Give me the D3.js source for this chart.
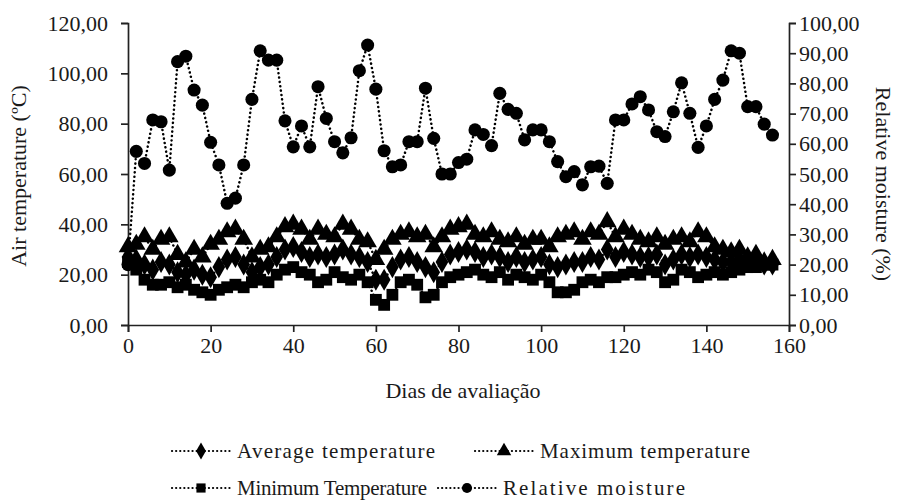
<!DOCTYPE html>
<html>
<head>
<meta charset="utf-8">
<script src="https://cdn.jsdelivr.net/npm/d3@7"></script>
<style>
  body { margin: 0; background: #fff; }
  text { font-family: "Liberation Serif", "Times New Roman", serif; fill: #1a1a1a; }
</style>
</head>
<body>
<div id="chart"></div>
<script>
// dimensions of the whole picture
var width = 908,
    height = 501;

// days of evaluation (one reading every 2 days)
var days = d3.range(0, 157, 2);

// air temperature (ºC)
var avgTemp = [27, 26, 24, 22, 25, 24, 21, 20, 22, 20, 19, 23, 26, 27, 24, 21, 23, 24, 27, 30,
  31, 29, 27, 28, 27, 28, 30, 28, 27, 25, 18, 18, 23, 26, 27, 25, 23, 21, 25, 28,
  29, 30, 29, 27, 28, 27, 25, 27, 25, 26, 27, 24, 23, 24, 25, 25, 27, 26, 30, 27,
  29, 28, 27, 27, 28, 24, 26, 28, 27, 28, 27, 26, 25, 25, 26, 25, 25, 24, 24];
var maxTemp = [31, 32, 35, 30, 34, 35, 28, 25, 30, 27, 32, 34, 37, 38, 34, 27, 30, 31, 35, 39,
  40, 38, 34, 38, 36, 35, 40, 38, 34, 33, 26, 30, 34, 36, 37, 35, 36, 31, 35, 38,
  39, 40, 36, 35, 37, 34, 33, 35, 32, 34, 34, 31, 35, 36, 37, 34, 37, 36, 41, 35,
  38, 36, 34, 33, 35, 32, 34, 35, 33, 37, 35, 31, 30, 29, 30, 27, 28, 25, 26];
var minTemp = [25, 22, 18, 16, 16, 17, 15, 16, 14, 13, 12, 14, 15, 16, 15, 17, 18, 17, 20, 22,
  23, 21, 20, 17, 18, 21, 19, 18, 20, 17, 10, 8, 12, 17, 18, 16, 11, 12, 17, 19,
  20, 21, 22, 20, 19, 21, 18, 20, 19, 18, 20, 17, 13, 13, 14, 17, 18, 17, 19, 19,
  20, 21, 20, 22, 21, 17, 18, 22, 21, 19, 20, 21, 20, 21, 22, 23, 23, 24, 24];
// relative moisture (%)
var moisture = [20, 57.5, 53.5, 67.9, 67.3, 51.3, 87.2, 89, 77.8, 72.8, 60.5, 53, 40.3, 42, 53, 74.7, 90.8, 87.7, 87.7, 67.6,
  59, 65.9, 59, 78.9, 68.4, 60.7, 57, 62, 84.2, 92.7, 78.1, 57.7, 52.4, 53, 60.7, 60.7, 78.4, 61.8, 50, 50,
  53.8, 54.9, 64.6, 63.1, 59.4, 76.7, 71.4, 70.1, 61.3, 64.6, 64.6, 60.7, 54.1, 49.1, 50.8, 46.4, 52.4, 52.6, 46.9, 67.9,
  67.9, 73.2, 75.6, 71.2, 64, 62.4, 70.6, 80.2, 70.1, 58.8, 65.9, 74.7, 81.1, 90.8, 90, 72.3, 72.3, 66.5, 62.9];

var leftTicks = [0, 20, 40, 60, 80, 100, 120];
var rightTicks = [0, 10, 20, 30, 40, 50, 60, 70, 80, 90, 100];
var xTicks = [0, 20, 40, 60, 80, 100, 120, 140, 160];

var series = [
  {name: "Average temperature", values: avgTemp, axis: "left", symbol: d3.symbolDiamond, size: 140},
  {name: "Maximum temperature", values: maxTemp, axis: "left", symbol: d3.symbolTriangle, size: 150},
  {name: "Minimum Temperature", values: minTemp, axis: "left", symbol: d3.symbolSquare, size: 140},
  {name: "Relative moisture", values: moisture, axis: "right", symbol: d3.symbolCircle, size: 135}
];

var fmt = function(v) { return d3.format(".2f")(v).replace(".", ","); };

var svg = d3.select("#chart")
  .append("svg")
  .attr("width", width)
  .attr("height", height);

var x = d3.scaleLinear().domain([0, 160]).range([128, 789]);
var yL = d3.scaleLinear().domain([0, 120]).range([325, 23]);
var yR = d3.scaleLinear().domain([0, 100]).range([325, 23]);

// axes
var gx = svg.append("g")
  .attr("transform", "translate(0,325)")
  .call(d3.axisBottom(x).tickValues(xTicks).tickSize(7).tickPadding(5).tickFormat(d3.format("d")));
var gl = svg.append("g")
  .attr("transform", "translate(128,0)")
  .call(d3.axisLeft(yL).tickValues(leftTicks).tickSize(7).tickPadding(13).tickFormat(fmt));
var gr = svg.append("g")
  .attr("transform", "translate(789,0)")
  .call(d3.axisRight(yR).tickValues(rightTicks).tickSize(7).tickPadding(3).tickFormat(fmt));

[gx, gl, gr].forEach(function(g) {
  g.selectAll("path").attr("stroke", "#222").attr("stroke-width", 1.7);
  g.selectAll("line").attr("stroke", "#222").attr("stroke-width", 1.7);
  g.selectAll("text").style("font-size", "22px").style("font-family", "Liberation Serif").attr("fill", "#1a1a1a");
});

// axis titles
svg.append("text")
  .attr("transform", "translate(18,176) rotate(-90)")
  .attr("text-anchor", "middle")
  .attr("dy", "0.35em")
  .style("font-size", "22px")
  .text("Air temperature (ºC)");

svg.append("text")
  .attr("transform", "translate(884,184) rotate(90)")
  .attr("text-anchor", "middle")
  .attr("dy", "0.35em")
  .style("font-size", "22px")
  .text("Relative moisture (%)");

svg.append("text")
  .attr("x", 463)
  .attr("y", 390)
  .attr("text-anchor", "middle")
  .attr("dy", "0.35em")
  .style("font-size", "22px")
  .text("Dias de avaliação");

// series
series.forEach(function(s) {
  var yScale = s.axis === "left" ? yL : yR;
  var pts = days.map(function(d, i) { return [x(d), yScale(s.values[i])]; });

  svg.append("path")
    .datum(pts)
    .attr("d", d3.line())
    .attr("fill", "none")
    .attr("stroke", "#000")
    .attr("stroke-width", 2.5)
    .attr("stroke-linecap", "round")
    .attr("stroke-dasharray", "0.1,4.3");

  svg.selectAll(null)
    .data(pts)
    .enter()
    .append("path")
    .attr("d", d3.symbol().type(s.symbol).size(s.size))
    .attr("transform", function(p) { return "translate(" + p[0] + "," + p[1] + ")"; })
    .attr("fill", "#000");
});

// legend (text widths follow the loose letter spacing of the original)
var legendPos = [[172, 451], [475, 451], [172, 488], [438, 488]];
var legendWidth = [198, 210, 190, 182];
series.forEach(function(s, i) {
  var g = svg.append("g").attr("transform", "translate(" + legendPos[i][0] + "," + legendPos[i][1] + ")");
  g.append("line")
    .attr("x1", 0).attr("x2", 58)
    .attr("stroke", "#000")
    .attr("stroke-width", 2.2)
    .attr("stroke-linecap", "round")
    .attr("stroke-dasharray", "0.1,4");
  g.append("path")
    .attr("d", d3.symbol().type(s.symbol).size(s.size * 0.6))
    .attr("transform", "translate(29,0)")
    .attr("fill", "#000");
  g.append("text")
    .attr("x", 65)
    .attr("dy", "0.35em")
    .attr("textLength", legendWidth[i])
    .attr("lengthAdjust", "spacing")
    .style("font-size", "21px")
    .text(s.name);
});
</script>
</body>
</html>
